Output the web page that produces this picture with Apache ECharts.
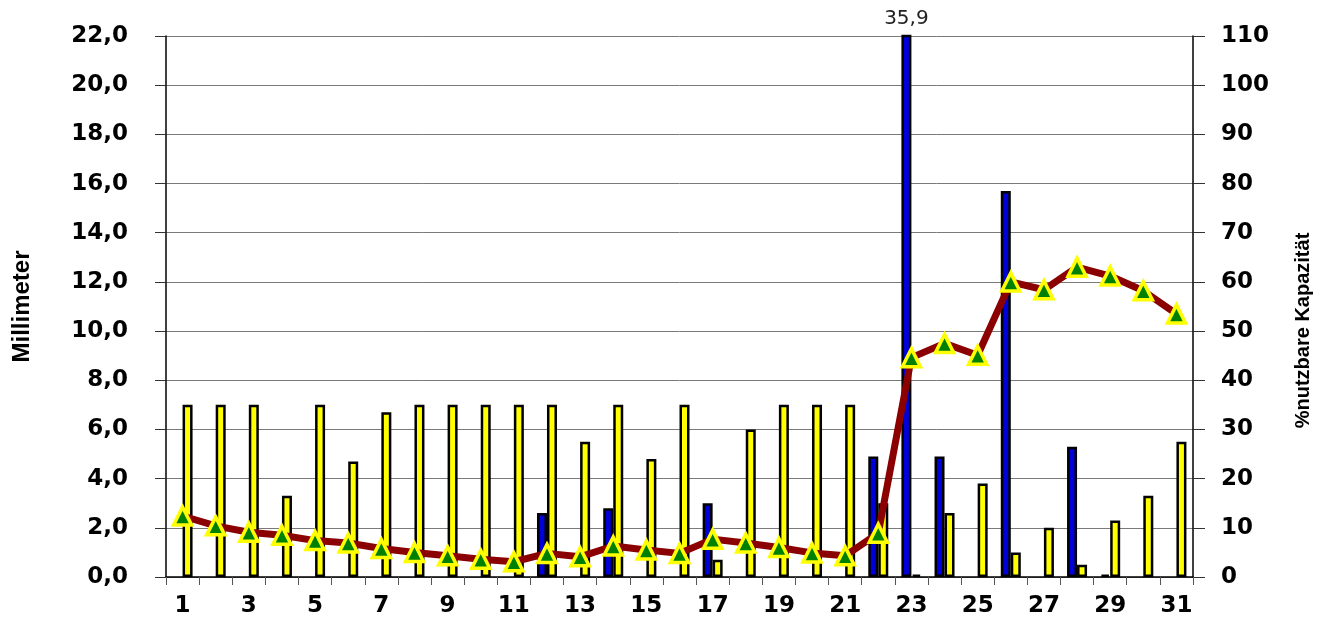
<!DOCTYPE html>
<html>
<head>
<meta charset="utf-8">
<script src="https://cdn.jsdelivr.net/npm/echarts@6/dist/echarts.min.js"></script>
<style>html,body{margin:0;padding:0;background:#fff}#c{width:1330px;height:626px}</style>
</head>
<body>
<div id="c"></div>
<script>
const days = ['1','2','3','4','5','6','7','8','9','10','11','12','13','14','15','16','17','18','19','20','21','22','23','24','25','26','27','28','29','30','31'];
const precipitation = [0,0,0,0,0,0,0,0,0,0,0,2.6,0,2.8,0,0,3.0,0,0,0,0,4.9,35.9,4.9,0,15.7,0,5.3,0.1,0,0];
const evaporation = [7.0,7.0,7.0,3.3,7.0,4.7,6.7,7.0,7.0,7.0,7.0,7.0,5.5,7.0,4.8,7.0,0.7,6.0,7.0,7.0,7.0,3.0,0.1,2.6,3.8,1.0,2.0,0.5,2.3,3.3,5.5];
const capacity = [12.4,10.4,9.1,8.5,7.4,6.9,5.8,5.0,4.3,3.6,3.1,4.8,4.1,6.3,5.5,4.8,7.7,6.9,6.0,4.9,4.3,8.9,44.6,47.5,45.1,60.0,58.4,63.0,61.2,58.2,53.5];
const leftAxisName = 'Millimeter';
const rightAxisName = '%nutzbare Kapazität';
const leftMax = 22;

// zero values draw no bar in the reference
const noZero = arr => arr.map(v => (v === 0 ? '-' : v));

const chart = echarts.init(document.getElementById('c'), null, {renderer: 'canvas'});
const axisFont = {fontFamily: 'DejaVu Sans', fontWeight: 'bold', fontSize: 23, color: '#000'};
chart.setOption({
  animation: false,
  backgroundColor: '#fff',
  grid: {left: 166, right: 137, top: 36, bottom: 49, containLabel: false},
  xAxis: {
    type: 'category',
    data: days,
    boundaryGap: true,
    axisLine: {lineStyle: {color: '#000', width: 1.5}},
    axisTick: {show: true, interval: 0, length: 8, lineStyle: {color: '#555', width: 1}},
    axisLabel: Object.assign({interval: 1, margin: 18}, axisFont),
    splitLine: {show: false}
  },
  yAxis: [
    {
      type: 'value', min: 0, max: leftMax, interval: 2, position: 'left',
      name: leftAxisName, nameLocation: 'middle', nameRotate: 90, nameGap: 132,
      nameTextStyle: {fontFamily: 'Liberation Sans', fontWeight: 'bold', fontSize: 24, color: '#000'},
      axisLine: {show: true, lineStyle: {color: '#000', width: 1.5}},
      axisTick: {show: true, length: 11, lineStyle: {color: '#333', width: 1}},
      axisLabel: Object.assign({margin: 38, formatter: v => v.toFixed(1).replace('.', ',')}, axisFont),
      splitLine: {show: true, lineStyle: {color: '#7a7a7a', width: 1}}
    },
    {
      type: 'value', min: 0, max: 110, interval: 10, position: 'right',
      name: rightAxisName, nameLocation: 'middle', nameRotate: 90, nameGap: 100,
      nameTextStyle: {fontFamily: 'Liberation Sans', fontWeight: 'bold', fontSize: 20, color: '#000', padding: [0, 48, 0, 0]},
      axisLine: {show: true, lineStyle: {color: '#000', width: 1.5}},
      axisTick: {show: true, length: 12, lineStyle: {color: '#333', width: 1}},
      axisLabel: Object.assign({margin: 28}, axisFont),
      splitLine: {show: false}
    }
  ],
  series: [
    {
      name: 'Niederschlag', type: 'bar', yAxisIndex: 0, data: noZero(precipitation),
      barWidth: 10, barGap: '0%', clip: true,
      itemStyle: {color: '#0000D8', borderColor: '#000', borderWidth: 2.5},
      label: {
        show: true, position: 'top', distance: 6,
        fontFamily: 'DejaVu Sans', fontSize: 20, color: '#222',
        formatter: p => p.value > leftMax ? String(p.value).replace('.', ',') : ''
      },
      z: 2
    },
    {
      name: 'Verdunstung', type: 'bar', yAxisIndex: 0, data: noZero(evaporation),
      barWidth: 10, barGap: '0%',
      itemStyle: {color: '#FFFF00', borderColor: '#000', borderWidth: 2.5},
      z: 2
    },
    {
      name: 'Kapazität', type: 'line', yAxisIndex: 1, data: capacity,
      lineStyle: {color: '#8B0000', width: 7},
      symbol: 'triangle', symbolSize: 18,
      itemStyle: {color: '#008000', borderColor: '#FFFF00', borderWidth: 3.5},
      z: 5
    }
  ]
});
</script>
</body>
</html>
